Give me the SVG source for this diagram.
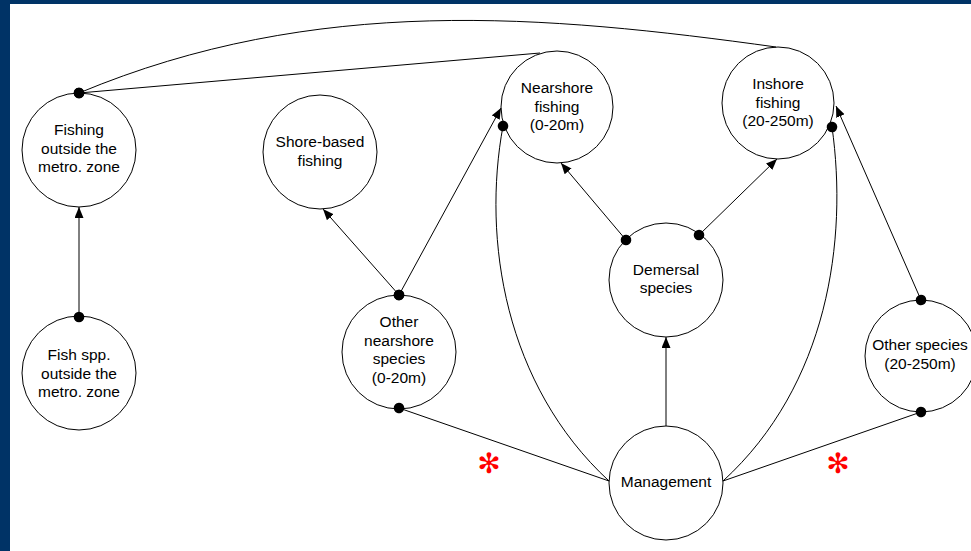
<svg xmlns="http://www.w3.org/2000/svg" width="971" height="551" viewBox="0 0 971 551">
  <defs>
    <style>
      .node circle { fill: #ffffff; stroke: #000000; stroke-width: 1; }
      .node text { font-family: "Liberation Sans", Arial, sans-serif; font-size: 15.5px; fill: #000000; text-anchor: middle; }
      .edge { fill: none; stroke: #000000; stroke-width: 1; }
      .neg { marker-start: url(#dot); }
      .pos { marker-end: url(#arrow); }
      .star { font-family: "DejaVu Sans", sans-serif; font-size: 28px; fill: #ff0000; text-anchor: middle; font-weight: bold; }
    </style>
    <marker id="arrow" markerUnits="userSpaceOnUse" markerWidth="12" markerHeight="10" refX="11" refY="4.5" orient="auto">
      <path d="M0,0 L11,4.5 L0,9 z" fill="#000000"/>
    </marker>
    <marker id="dot" markerUnits="userSpaceOnUse" markerWidth="12" markerHeight="12" refX="6" refY="6" orient="auto">
      <circle cx="6" cy="6" r="5.3" fill="#000000"/>
    </marker>
  </defs>

  <!-- frame -->
  <rect x="0" y="0" width="971" height="551" fill="#003366"/>
  <rect x="10" y="4" width="961" height="547" fill="#ffffff"/>

  <!-- nodes -->
  <g id="fishing-outside" class="node">
    <circle cx="79" cy="150" r="57"/>
    <text x="79" y="135">Fishing</text>
    <text x="79" y="153.5">outside the</text>
    <text x="79" y="172">metro. zone</text>
  </g>
  <g id="fish-spp-outside" class="node">
    <circle cx="79" cy="373" r="57"/>
    <text x="79" y="360">Fish spp.</text>
    <text x="79" y="378.5">outside the</text>
    <text x="79" y="397">metro. zone</text>
  </g>
  <g id="shore-based-fishing" class="node">
    <circle cx="320" cy="152" r="57"/>
    <text x="320" y="147">Shore-based</text>
    <text x="320" y="165.5">fishing</text>
  </g>
  <g id="nearshore-fishing" class="node">
    <circle cx="557" cy="107" r="56"/>
    <text x="557" y="93">Nearshore</text>
    <text x="557" y="111.5">fishing</text>
    <text x="557" y="130">(0-20m)</text>
  </g>
  <g id="inshore-fishing" class="node">
    <circle cx="778" cy="103" r="56"/>
    <text x="778" y="89">Inshore</text>
    <text x="778" y="107.5">fishing</text>
    <text x="778" y="126">(20-250m)</text>
  </g>
  <g id="demersal-species" class="node">
    <circle cx="666" cy="280" r="57"/>
    <text x="666" y="274.5">Demersal</text>
    <text x="666" y="293">species</text>
  </g>
  <g id="other-nearshore-species" class="node">
    <circle cx="399" cy="352" r="57"/>
    <text x="399" y="327">Other</text>
    <text x="399" y="345.5">nearshore</text>
    <text x="399" y="364">species</text>
    <text x="399" y="382.5">(0-20m)</text>
  </g>
  <g id="other-species" class="node">
    <circle cx="921" cy="356" r="56"/>
    <text x="920" y="350">Other species</text>
    <text x="920" y="369">(20-250m)</text>
  </g>
  <g id="management" class="node">
    <circle cx="666" cy="483" r="57"/>
    <text x="666" y="487">Management</text>
  </g>

  <!-- connectors: dot = negative effect, arrowhead = positive effect -->
  <g id="connectors">
    <path class="edge neg pos" d="M79,317 L79,207"/>
    <path class="edge neg" d="M79,93 L540,53"/>
    <path class="edge neg" d="M79,93 C316,-6 545,15 776,47"/>
    <path class="edge neg pos" d="M399,295 L323,209"/>
    <path class="edge neg pos" d="M399,295 L501,108"/>
    <path class="edge neg" d="M503,126 C482,240 505,385 609,481"/>
    <path class="edge neg" d="M832,127 C848,240 828,385 723,481"/>
    <path class="edge neg" d="M399,408 L609,481"/>
    <path class="edge neg" d="M921,412 L723,481"/>
    <path class="edge neg pos" d="M921,300 L836,106"/>
    <path class="edge neg pos" d="M626,240 L561,163"/>
    <path class="edge neg pos" d="M699,235 L777,159"/>
    <path class="edge pos" d="M666,426 L666,337"/>
  </g>

  <!-- significance marks -->
  <text class="star" x="489" y="473">✻</text>
  <text class="star" x="838" y="473">✻</text>
</svg>
